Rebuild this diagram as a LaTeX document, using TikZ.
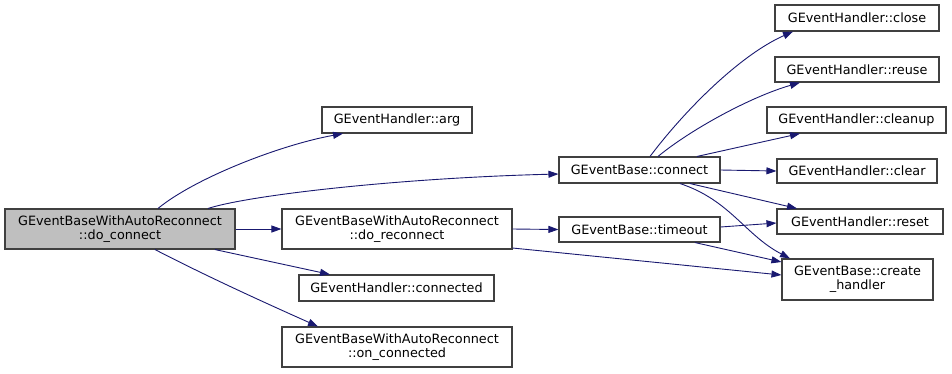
\documentclass[tikz,border=0pt]{standalone}
\usepackage{fontspec}
\setmainfont{DejaVu Sans}
\usetikzlibrary{arrows.meta}
\definecolor{edgeblue}{RGB}{25,25,112}
\definecolor{boxline}{RGB}{64,64,64}
\definecolor{rootfill}{RGB}{191,191,191}
\begin{document}
\begin{tikzpicture}[x=1pt,y=-1pt,
  fn/.style={draw=boxline,line width=1.1pt,fill=white,inner sep=0pt,align=center,
    font=\fontsize{12.8}{14}\selectfont},
  rootfn/.style={fn,fill=rootfill},
  call/.style={draw=edgeblue,line width=0.9pt,-{Triangle[length=10pt,width=7pt]}}]
\useasboundingbox (0,0) rectangle (952,373);

% functions
\node[rootfn,minimum width=230,minimum height=40] (dc) at (120,229)
  {GEventBaseWithAutoReconnect\\::do\_connect};
\node[fn,minimum width=150,minimum height=26] (arg) at (397,120) {GEventHandler::arg};
\node[fn,minimum width=230,minimum height=40] (dr) at (397,229)
  {GEventBaseWithAutoReconnect\\::do\_reconnect};
\node[fn,minimum width=195,minimum height=26] (cd) at (396.5,288) {GEventHandler::connected};
\node[fn,minimum width=230,minimum height=40] (oc) at (397,347)
  {GEventBaseWithAutoReconnect\\::on\_connected};
\node[fn,minimum width=161,minimum height=26] (cn) at (639.5,170) {GEventBase::connect};
\node[fn,minimum width=161,minimum height=25] (to) at (639.5,229.5) {GEventBase::timeout};
\node[fn,minimum width=164,minimum height=26] (close) at (857,18) {GEventHandler::close};
\node[fn,minimum width=164,minimum height=25] (reuse) at (857,69.5) {GEventHandler::reuse};
\node[fn,minimum width=179,minimum height=26] (cleanup) at (856.5,120) {GEventHandler::cleanup};
\node[fn,minimum width=160,minimum height=24] (clear) at (857,171) {GEventHandler::clear};
\node[fn,minimum width=166,minimum height=25] (reset) at (860,221.5) {GEventHandler::reset};
\node[fn,minimum width=151,minimum height=41] (ch) at (857.5,279.5)
  {GEventBase::create\\\_handler};

% calls from do_connect
\draw[call] ([xshift=38]dc.north) .. controls (195,178) and (280,145) .. ([xshift=-54]arg.south);
\draw[call] ([xshift=88]dc.north) .. controls (250,195) and (400,178) .. ([yshift=-4pt]cn.west);
\draw[call] (dc.east) -- (dr.west);
\draw[call] ([xshift=95]dc.south) -- ([xshift=-66.5]cd.north);
\draw[call] ([xshift=35]dc.south) .. controls (210,278) and (270,305) .. ([xshift=-79]oc.north);

% calls from do_reconnect
\draw[call] (dr.east) -- (to.west);
\draw[call] ([yshift=-19pt]dr.east) -- ([yshift=4.5pt]ch.west);

% calls from GEventBase::connect
\draw[call] ([xshift=10.5]cn.north) .. controls (685,110) and (740,55) .. ([xshift=-64]close.south);
\draw[call] ([xshift=18.5]cn.north) .. controls (690,130) and (750,97) .. ([xshift=-57]reuse.south);
\draw[call] ([xshift=57.5]cn.north) -- ([xshift=-56.5]cleanup.south);
\draw[call] (cn.east) -- (clear.west);
\draw[call] ([xshift=50.5]cn.south) -- ([xshift=-63]reset.north);
\draw[call] ([xshift=40.5]cn.south) .. controls (730,200) and (745,235) .. ([xshift=-67.5]ch.north);

% calls from GEventBase::timeout
\draw[call] ([yshift=2.5pt]to.east) -- ([yshift=-1.5pt]reset.west);
\draw[call] ([xshift=55.5]to.south) -- ([yshift=17.5pt]ch.west);
\end{tikzpicture}
\end{document}
